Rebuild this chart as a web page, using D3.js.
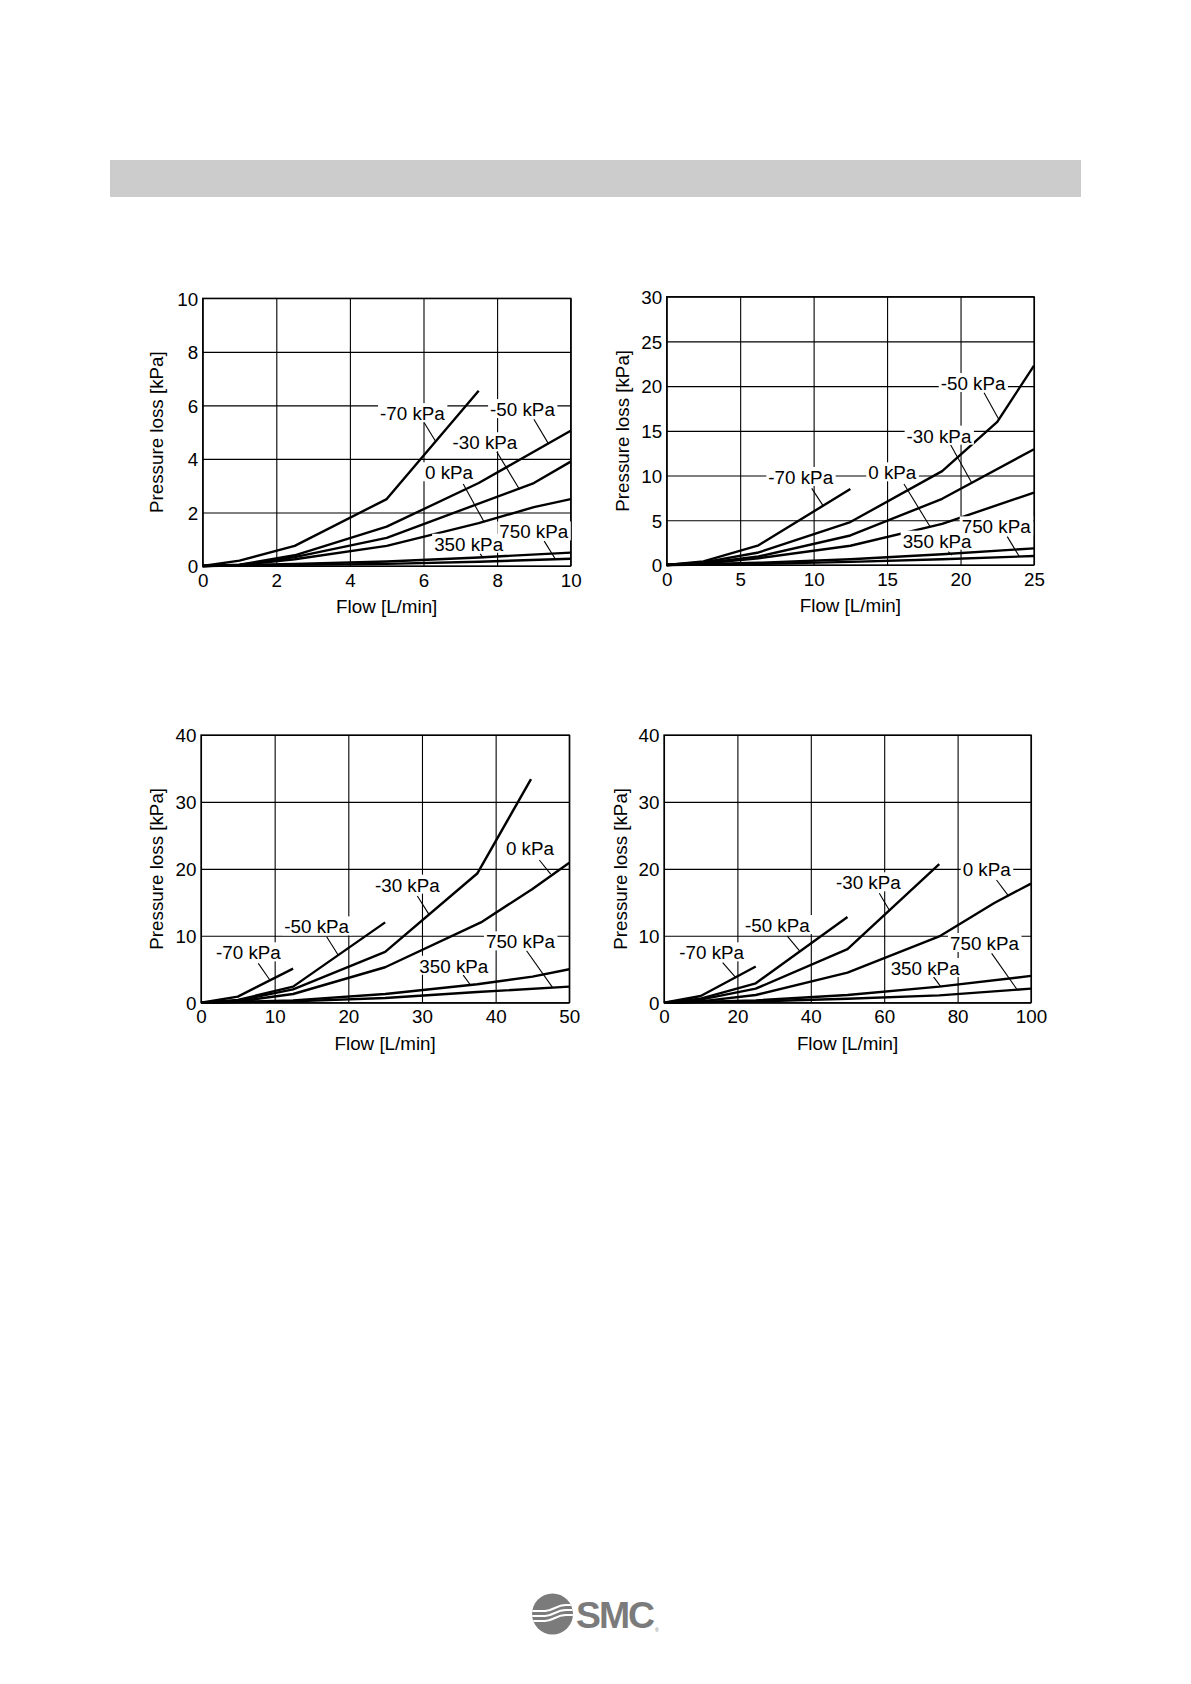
<!DOCTYPE html>
<html>
<head>
<meta charset="utf-8">
<script src="https://cdn.jsdelivr.net/npm/d3@7"></script>
<style>
  body { margin: 0; background: #fff; }
  svg { display: block; }
  text { font-family: "Liberation Sans", Arial, Helvetica, sans-serif; fill: #000; }
</style>
</head>
<body>
<svg id="page" width="1191" height="1684"></svg>
<script>
// ---------- DATA ----------
const seriesNames = ["-70 kPa", "-50 kPa", "-30 kPa", "0 kPa", "350 kPa", "750 kPa"];

// Chart 1 (0-10 L/min, 0-10 kPa)
const c1XTicks = [0, 2, 4, 6, 8, 10];
const c1YTicks = [0, 2, 4, 6, 8, 10];
const c1_m70 = [[0,0],[1,0.2],[2.5,0.75],[5,2.5],[7.5,6.55]];
const c1_m50 = [[0,0],[1,0.05],[2.5,0.4],[5,1.47],[7.5,3.1],[10,5.05]];
const c1_m30 = [[0,0],[1,0.04],[2.5,0.33],[5,1.05],[9,3.1],[10,3.9]];
const c1_0   = [[0,0],[1,0.03],[2.5,0.25],[5,0.75],[7.5,1.6],[9,2.2],[10,2.5]];
const c1_350 = [[0,0],[2.5,0.08],[5,0.17],[7.5,0.32],[10,0.5]];
const c1_750 = [[0,0],[5,0.08],[7.5,0.16],[10,0.27]];
// label: [text, textX, textBaselineY, leaderX1, leaderY1, leaderX2, leaderY2] in data units
const c1Labels = [
  ["-70 kPa", 4.82, 5.45, 6.02, 5.35, 6.34, 4.63],
  ["-50 kPa", 7.81, 5.60, 9.00, 5.48, 9.39, 4.58],
  ["-30 kPa", 6.79, 4.36, 7.99, 4.27, 8.61, 2.86],
  ["0 kPa",   6.04, 3.24, 7.08, 3.06, 7.64, 1.66],
  ["350 kPa", 6.29, 0.57, 7.54, 0.45, 7.63, 0.29],
  ["750 kPa", 8.06, 1.03, 9.28, 0.93, 9.57, 0.29]
];

// Chart 2 (0-25 L/min, 0-30 kPa)
const c2XTicks = [0, 5, 10, 15, 20, 25];
const c2YTicks = [0, 5, 10, 15, 20, 25, 30];
const c2_m70 = [[0,0],[2.5,0.4],[6.25,2.2],[12.5,8.5]];
const c2_m50 = [[0,0],[2.5,0.3],[6.25,1.4],[12.5,4.8],[18.75,10.5],[22.5,16],[25,22.3]];
const c2_m30 = [[0,0],[2.5,0.2],[6.25,0.95],[12.5,3.3],[18.75,7.4],[25,12.95]];
const c2_0   = [[0,0],[2.5,0.15],[6.25,0.75],[12.5,2.15],[18.75,4.6],[25,8.1]];
const c2_350 = [[0,0],[6.25,0.25],[12.5,0.65],[18.75,1.2],[25,1.86]];
const c2_750 = [[0,0],[6.25,0.12],[12.5,0.35],[18.75,0.65],[25,1.0]];
const c2Labels = [
  ["-70 kPa",  6.92,  9.06,  9.87,  8.57, 10.62,  6.70],
  ["-50 kPa", 18.65, 19.57, 21.60, 19.27, 22.60, 16.30],
  ["-30 kPa", 16.33, 13.68, 19.33, 13.42, 20.76,  9.20],
  ["0 kPa",   13.72,  9.58, 16.15,  9.06, 17.92,  4.30],
  ["350 kPa", 16.06,  1.94, 19.17,  1.49, 19.40,  1.10],
  ["750 kPa", 20.08,  3.54, 23.18,  3.17, 24.00,  0.95]
];

// Chart 3 (0-50 L/min, 0-40 kPa)
const c3XTicks = [0, 10, 20, 30, 40, 50];
const c3YTicks = [0, 10, 20, 30, 40];
const c3_m70 = [[0,0],[5,0.9],[12.5,5.1]];
const c3_m50 = [[0,0],[5,0.4],[12.5,2.4],[25,12.0]];
const c3_m30 = [[0,0],[5,0.3],[12.5,2.0],[25,7.6],[37.5,19.3],[44.8,33.4]];
const c3_0   = [[0,0],[5,0.2],[12.5,1.3],[25,5.3],[38,12.0],[45,17.0],[50,20.9]];
const c3_350 = [[0,0],[12.5,0.35],[25,1.3],[37.5,2.75],[45,3.9],[50,5.0]];
const c3_750 = [[0,0],[12.5,0.2],[25,0.7],[37.5,1.6],[50,2.4]];
const c3Labels = [
  ["-70 kPa",  2.04,  6.48,  7.78,  5.88,  9.37,  3.35],
  ["-50 kPa", 11.31, 10.36, 17.06,  9.86, 18.64,  7.10],
  ["-30 kPa", 23.62, 16.59, 29.37, 15.94, 30.95, 13.20],
  ["0 kPa",   41.40, 22.07, 45.93, 21.32, 47.47, 19.20],
  ["350 kPa", 29.64,  4.48, 35.60,  4.13, 36.60,  2.60],
  ["750 kPa", 38.69,  8.12, 44.20,  7.77, 47.74,  2.25]
];

// Chart 4 (0-100 L/min, 0-40 kPa)
const c4XTicks = [0, 20, 40, 60, 80, 100];
const c4YTicks = [0, 10, 20, 30, 40];
const c4_m70 = [[0,0],[10,1.0],[25,5.4]];
const c4_m50 = [[0,0],[10,0.6],[25,2.9],[50,12.8]];
const c4_m30 = [[0,0],[10,0.45],[25,2.1],[50,8.0],[75,20.7]];
const c4_0   = [[0,0],[10,0.2],[25,1.15],[50,4.5],[75,9.9],[90,14.9],[100,17.8]];
const c4_350 = [[0,0],[25,0.35],[50,1.15],[75,2.4],[100,4.0]];
const c4_750 = [[0,0],[25,0.2],[50,0.6],[75,1.1],[100,2.1]];
const c4Labels = [
  ["-70 kPa",  4.18,  6.48, 15.99,  5.98, 19.62,  3.70],
  ["-50 kPa", 22.07, 10.56, 33.60,  9.96, 37.06,  7.67],
  ["-30 kPa", 46.87, 16.94, 58.67, 16.34, 61.40, 13.80],
  ["0 kPa",   81.38, 18.93, 90.60, 18.33, 93.80, 16.00],
  ["350 kPa", 61.76,  4.13, 73.40,  3.89, 75.40,  2.40],
  ["750 kPa", 77.93,  7.87, 89.28,  7.37, 96.10,  2.05]
];

const xTitle = "Flow [L/min]";
const yTitle = "Pressure loss [kPa]";

// ---------- LAYOUT ----------
const charts = [
  { left: 202.7, top: 298.3, width: 368, height: 267.7, xTicks: c1XTicks, yTicks: c1YTicks,
    series: [c1_m70, c1_m50, c1_m30, c1_0, c1_350, c1_750], labels: c1Labels, yTitleOff: 40 },
  { left: 666.7, top: 296.7, width: 367.3, height: 268.3, xTicks: c2XTicks, yTicks: c2YTicks,
    series: [c2_m70, c2_m50, c2_m30, c2_0, c2_350, c2_750], labels: c2Labels, yTitleOff: 38 },
  { left: 201, top: 735, width: 368.3, height: 267.7, xTicks: c3XTicks, yTicks: c3YTicks,
    series: [c3_m70, c3_m50, c3_m30, c3_0, c3_350, c3_750], labels: c3Labels, yTitleOff: 38 },
  { left: 664, top: 735, width: 367, height: 267.7, xTicks: c4XTicks, yTicks: c4YTicks,
    series: [c4_m70, c4_m50, c4_m30, c4_0, c4_350, c4_750], labels: c4Labels, yTitleOff: 37 }
];

const svg = d3.select("#page");
svg.append("rect").attr("width", 1191).attr("height", 1684).attr("fill", "#fff");

// header bar
svg.append("rect").attr("x", 110).attr("y", 160).attr("width", 971).attr("height", 37).attr("fill", "#cccccc");

const FS = 18.8;

charts.forEach(c => {
  const x = d3.scaleLinear().domain([c.xTicks[0], c.xTicks[c.xTicks.length - 1]]).range([0, c.width]);
  const y = d3.scaleLinear().domain([c.yTicks[0], c.yTicks[c.yTicks.length - 1]]).range([c.height, 0]);
  const g = svg.append("g").attr("transform", `translate(${c.left},${c.top})`);

  // grid + tick labels via axes
  const xa = g.append("g").attr("transform", `translate(0,${c.height})`)
    .call(d3.axisBottom(x).tickValues(c.xTicks).tickSize(-c.height).tickPadding(7.3).tickFormat(d3.format("d")));
  const ya = g.append("g")
    .call(d3.axisLeft(y).tickValues(c.yTicks).tickSize(-c.width).tickPadding(4.5).tickFormat(d3.format("d")));
  [xa, ya].forEach(a => {
    a.select(".domain").remove();
    a.selectAll("line").attr("stroke", "#000").attr("stroke-width", 1.1);
    a.selectAll("text").attr("font-size", FS).attr("font-family", '"Liberation Sans", Arial, sans-serif').attr("fill", "#000");
  });
  ya.selectAll("text").attr("dy", "0.36em");

  // label backgrounds & texts
  const lg = g.append("g");
  const texts = c.labels.map(l => lg.append("text")
    .attr("x", x(l[1])).attr("y", y(l[2])).attr("font-size", FS).text(l[0]));
  texts.forEach(t => {
    const b = t.node().getBBox();
    lg.insert("rect", "text").attr("x", b.x - 2).attr("y", b.y).attr("width", b.width + 4)
      .attr("height", b.height - 2).attr("fill", "#fff");
  });

  // frame
  g.append("rect").attr("width", c.width).attr("height", c.height)
    .attr("fill", "none").attr("stroke", "#000").attr("stroke-width", 1.3);

  // curves
  const line = d3.line().x(d => x(d[0])).y(d => y(d[1]));
  g.append("g").selectAll("path").data(c.series).join("path")
    .attr("d", line).attr("fill", "none").attr("stroke", "#000")
    .attr("stroke-width", 2.4).attr("stroke-linejoin", "round");

  // leaders
  g.append("g").selectAll("line").data(c.labels).join("line")
    .attr("x1", d => x(d[3])).attr("y1", d => y(d[4]))
    .attr("x2", d => x(d[5])).attr("y2", d => y(d[6]))
    .attr("stroke", "#000").attr("stroke-width", 1.1);

  lg.raise();

  // axis titles
  g.append("text").attr("x", c.width / 2).attr("y", c.height + 47.5)
    .attr("text-anchor", "middle").attr("font-size", FS).text(xTitle);
  g.append("text").attr("transform", `translate(${-c.yTitleOff},${c.height / 2}) rotate(-90)`)
    .attr("text-anchor", "middle").attr("font-size", FS).text(yTitle);
});

// ---------- SMC logo ----------
const logo = svg.append("g");
const defs = svg.append("defs");
defs.append("clipPath").attr("id", "logoclip").append("circle")
  .attr("cx", 552.5).attr("cy", 1614).attr("r", 20.5);
logo.append("circle").attr("cx", 552.5).attr("cy", 1614).attr("r", 20.5).attr("fill", "#7b7b7b");
const stripes = logo.append("g").attr("clip-path", "url(#logoclip)");
[0, 5, 10].forEach(o => {
  stripes.append("path")
    .attr("d", `M528,${1611 + o} L545,${1611 + o} C553,${1611 + o} 556,${1605 + o} 566,${1605 + o} L580,${1605 + o}`)
    .attr("fill", "none").attr("stroke", "#fff").attr("stroke-width", 2);
});
logo.append("text").attr("x", 576).attr("y", 1628).attr("font-size", 37).attr("font-weight", "bold")
  .attr("textLength", 77).attr("lengthAdjust", "spacingAndGlyphs")
  .attr("letter-spacing", -2).style("fill", "#7b7b7b").text("SMC");
logo.append("text").attr("x", 655).attr("y", 1632).attr("font-size", 5).style("fill", "#7b7b7b").text("®");
</script>
</body>
</html>
